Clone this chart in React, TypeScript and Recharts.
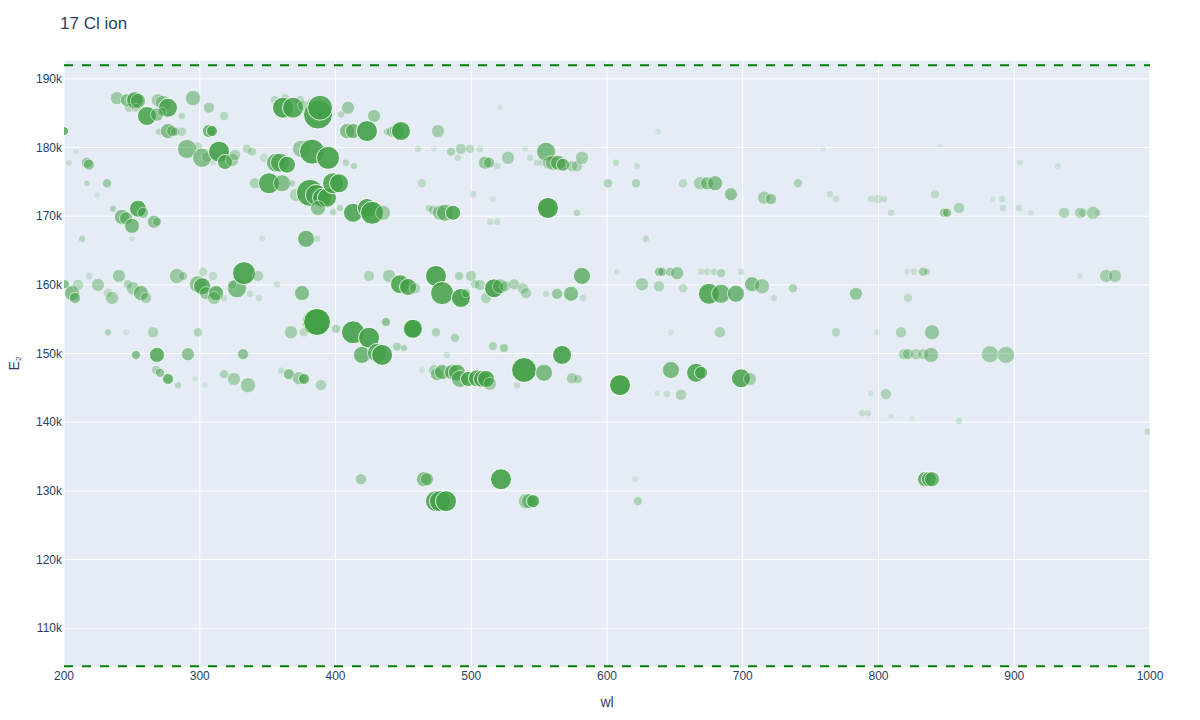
import React from "react";
import {
    ScatterChart,
    Scatter,
    XAxis,
    YAxis,
    CartesianGrid,
    ReferenceLine,
} from "recharts";

// [wl, E2, gf (log strength), conf]
type Transition = [number, number, number, number];

const title = "17 Cl ion";
const xTicks = [200, 300, 400, 500, 600, 700, 800, 900, 1000];
const yTicks = [110000, 120000, 130000, 140000, 150000, 160000, 170000, 180000, 190000];
const ionLimitHigh = 192000;
const ionLimitLow = 104450;

const levels187: Transition[] = [
    [239.0, 187200, 2, 0.45], [246.4, 186900, 2, 0.6], [252.3, 186900, 3, 0.85],
    [254.5, 186800, 2.5, 0.6], [269.2, 186900, 2, 0.4], [272.9, 186500, 2.5, 0.45],
    [276.6, 185800, 3.5, 0.85], [295.0, 187200, 2.5, 0.5], [247.9, 185800, 1, 0.3],
    [253.0, 185800, 1, 0.3], [261.1, 184600, 3.5, 0.85], [268.5, 184800, 2, 0.55],
    [272.2, 185200, 1, 0.35], [286.9, 184600, 0.5, 0.3], [306.8, 185800, 1.5, 0.4],
    [317.9, 184600, 1, 0.3], [355.4, 186900, 1, 0.3], [362.8, 187200, 1, 0.3],
    [373.8, 186900, 1, 0.3], [361.3, 185800, 4, 0.9], [368.7, 185800, 4, 0.85],
    [376.1, 186100, 1.5, 0.35], [382.0, 186500, 1, 0.3], [387.1, 184800, 6, 0.9],
    [388.6, 185800, 5, 0.85], [409.2, 185800, 2, 0.45], [404.1, 184800, 0.5, 0.3],
    [428.4, 184600, 2, 0.45], [521.2, 185800, 0.2, 0.15],
];

const levels182: Transition[] = [
    [200.0, 182400, 1, 0.75], [270.0, 182300, 0.5, 0.3], [276.6, 182400, 2.5, 0.6],
    [279.6, 182400, 1.5, 0.55], [281.8, 182300, 1, 0.4], [286.9, 182300, 1, 0.3],
    [306.8, 182400, 2, 0.7], [309.0, 182400, 1.5, 0.8], [408.5, 182400, 2.5, 0.6],
    [412.9, 182400, 2.5, 0.65], [423.2, 182400, 4, 0.9], [437.9, 182300, 0.5, 0.35],
    [441.6, 182300, 1.5, 0.5], [445.3, 182400, 2.5, 0.6], [448.2, 182400, 3.5, 0.9],
    [475.5, 182400, 2, 0.4], [637.6, 182300, 0.2, 0.15],
];

const levels179: Transition[] = [
    [290.6, 179800, 3.5, 0.6], [298.7, 180100, 1, 0.3], [301.7, 178500, 3.5, 0.6],
    [305.3, 178600, 1.5, 0.3], [314.2, 179400, 4, 0.9], [318.6, 177900, 2.5, 0.8],
    [323.8, 178200, 2, 0.4], [326.0, 178900, 1.5, 0.35], [334.8, 179800, 1, 0.3],
    [338.5, 179400, 1, 0.3], [347.3, 178500, 1, 0.2], [309.8, 177800, 0.2, 0.2],
    [356.2, 177800, 3.5, 0.7], [359.1, 177800, 3.5, 0.7], [364.3, 177500, 3, 0.85],
    [374.6, 179800, 3, 0.5], [382.7, 179400, 5, 0.9], [394.5, 178500, 4.5, 0.9],
    [407.7, 177800, 0.5, 0.3], [413.6, 177300, 0.5, 0.3], [203.7, 177800, 0.3, 0.2],
    [216.9, 177800, 1.5, 0.5], [218.4, 177500, 1.5, 0.5], [208.8, 179400, 0.3, 0.15],
    [460.8, 179800, 0.5, 0.2], [472.6, 179800, 0.3, 0.15], [485.1, 179400, 1, 0.35],
    [492.4, 179800, 1.5, 0.35], [499.1, 179800, 1, 0.3], [506.4, 179800, 0.5, 0.2],
    [490.2, 178500, 0.5, 0.2], [510.1, 177800, 2, 0.5], [513.1, 177800, 1.5, 0.5],
    [519.0, 177300, 0.5, 0.2], [527.1, 178500, 2, 0.4], [539.6, 179800, 0.3, 0.15],
    [543.3, 178500, 0.5, 0.2], [555.1, 179400, 3.5, 0.65], [548.4, 177800, 0.5, 0.2],
    [552.1, 177800, 0.5, 0.2], [557.3, 177800, 2, 0.4], [560.2, 177800, 2.5, 0.5],
    [563.9, 177800, 2.5, 0.65], [567.6, 177500, 2, 0.7], [574.2, 177300, 1.5, 0.35],
    [577.9, 177300, 1.5, 0.35], [581.6, 178500, 2, 0.4], [606.6, 177800, 0.5, 0.25],
    [622.1, 177300, 0.3, 0.2], [759.1, 179800, 0.2, 0.1], [845.3, 180200, 0.2, 0.1],
];

const levels175: Transition[] = [
    [216.9, 174800, 0.3, 0.3], [231.7, 174800, 1, 0.45], [224.3, 173100, 0.2, 0.15],
    [340.7, 174800, 1.5, 0.35], [351.0, 174800, 4, 0.85], [360.6, 174800, 3, 0.6],
    [368.0, 174800, 0.5, 0.3], [370.9, 173100, 2, 0.35], [381.2, 173400, 5.5, 0.9],
    [385.6, 173100, 4, 0.8], [390.1, 172700, 3.5, 0.8], [393.7, 172700, 3.5, 0.85],
    [398.2, 174800, 4, 0.85], [402.6, 174800, 3.5, 0.85], [387.1, 171200, 2.5, 0.55],
    [398.2, 170600, 0.5, 0.3], [403.3, 171200, 0.5, 0.3], [463.7, 174800, 1, 0.25],
    [600.7, 174800, 1, 0.35], [621.4, 174800, 1, 0.35], [656.0, 174800, 1, 0.25],
    [668.5, 174800, 2, 0.4], [673.7, 174800, 2, 0.55], [679.6, 174800, 2.5, 0.6],
    [691.3, 173200, 2, 0.55], [740.7, 174800, 1, 0.35], [715.7, 172700, 2, 0.4],
    [720.8, 172500, 1.5, 0.5], [764.3, 173200, 0.5, 0.2], [768.7, 172500, 0.5, 0.2],
    [794.5, 172500, 0.5, 0.2], [799.6, 172500, 1, 0.2], [804.1, 172500, 0.5, 0.2],
    [809.2, 170500, 0.5, 0.2], [501.3, 173200, 0.5, 0.2], [516.0, 172500, 0.3, 0.15],
    [513.8, 169200, 0.5, 0.2], [519.0, 169200, 0.5, 0.2],
];

const levels170: Transition[] = [
    [236.1, 171100, 0.5, 0.35], [242.7, 169900, 2.5, 0.6], [245.7, 169700, 2, 0.55],
    [254.5, 171100, 3, 0.85], [258.2, 170500, 1.5, 0.5], [250.1, 168600, 2.5, 0.65],
    [266.3, 169200, 2, 0.55], [268.5, 169200, 1, 0.4], [213.3, 166700, 0.5, 0.3],
    [250.1, 166700, 0.2, 0.15], [412.9, 170500, 3.5, 0.85], [423.2, 171200, 3.5, 0.9],
    [426.9, 170500, 4.5, 0.9], [435.0, 170500, 2.5, 0.45], [468.9, 171200, 0.5, 0.3],
    [471.8, 170900, 1, 0.35], [477.0, 170500, 2.5, 0.5], [480.7, 170500, 3, 0.6],
    [486.6, 170500, 2.5, 0.85], [556.5, 171200, 4, 0.95], [577.9, 170500, 0.5, 0.3],
    [378.3, 166700, 3, 0.7], [386.4, 166700, 0.5, 0.2], [345.9, 166700, 0.3, 0.15],
    [628.7, 166700, 0.5, 0.25], [841.6, 173200, 1, 0.25], [848.3, 170500, 1, 0.5],
    [850.5, 170500, 1, 0.5], [859.3, 171200, 1.5, 0.35], [884.3, 172500, 0.2, 0.15],
    [891.0, 172500, 0.5, 0.2], [891.7, 171200, 0.5, 0.2], [903.5, 171200, 0.5, 0.2],
    [912.3, 170500, 0.3, 0.15], [904.2, 177800, 0.3, 0.15], [932.2, 177300, 0.3, 0.15],
    [936.7, 170500, 1.5, 0.35], [948.4, 170500, 1.5, 0.35], [950.6, 170500, 1, 0.3],
    [958.0, 170500, 2, 0.4], [961.7, 170500, 0.5, 0.2],
];

const levels160: Transition[] = [
    [200.7, 160100, 1, 0.6], [205.9, 158800, 2.5, 0.6], [208.1, 158100, 1.5, 0.6],
    [210.3, 160000, 1.5, 0.3], [218.4, 161300, 0.5, 0.2], [225.0, 160000, 2, 0.4],
    [232.4, 158800, 1, 0.25], [235.4, 158100, 2, 0.4], [240.5, 161300, 2, 0.45],
    [247.1, 160100, 1, 0.35], [250.8, 159500, 2, 0.4], [256.7, 158800, 2.5, 0.6],
    [260.4, 158100, 1.5, 0.4], [283.2, 161300, 2.5, 0.45], [287.7, 161300, 1, 0.35],
    [302.4, 161900, 1, 0.25], [309.8, 161300, 1, 0.25], [298.7, 160100, 3, 0.55],
    [301.7, 159800, 3, 0.8], [304.6, 158800, 2, 0.5], [312.0, 158800, 2.5, 0.75],
    [310.5, 158100, 2, 0.4], [317.9, 158100, 0.5, 0.2], [327.4, 159500, 3.5, 0.65],
    [323.8, 160000, 1, 0.25], [332.6, 161700, 4.5, 0.9], [342.9, 161300, 1.5, 0.35],
    [337.0, 158700, 0.5, 0.2], [343.6, 158100, 0.5, 0.2], [356.9, 160100, 0.5, 0.2],
    [375.3, 158800, 2.5, 0.6], [424.7, 161300, 1.5, 0.35], [439.4, 161300, 2, 0.4],
    [447.5, 160100, 3.5, 0.85], [453.4, 159700, 3, 0.85], [458.6, 159500, 1.5, 0.35],
    [474.0, 161300, 4, 0.9], [478.5, 158800, 4.5, 0.85], [492.4, 158100, 3.5, 0.9],
    [496.1, 158800, 1, 0.35], [491.0, 161300, 1, 0.35], [499.8, 161300, 1.5, 0.35],
    [502.8, 160100, 1, 0.3], [506.4, 160000, 1.5, 0.35], [510.9, 158100, 1.5, 0.35],
    [516.8, 159500, 3.5, 0.9], [521.2, 159800, 2.5, 0.45], [524.9, 159800, 1.5, 0.35],
    [531.5, 160100, 1.5, 0.35], [538.1, 159500, 1.5, 0.35], [540.3, 158800, 1.5, 0.35],
    [555.1, 158700, 0.5, 0.2], [563.2, 158700, 1.5, 0.5], [573.5, 158700, 2.5, 0.6],
    [582.3, 158100, 0.5, 0.2], [581.6, 161300, 3, 0.7], [607.4, 161900, 0.3, 0.15],
    [625.8, 160100, 2, 0.4], [638.3, 161900, 1, 0.55], [640.5, 161900, 1, 0.5],
    [646.4, 161900, 1, 0.4], [651.6, 161700, 2, 0.5], [638.3, 159800, 1.5, 0.35],
    [656.0, 159500, 1, 0.25], [669.2, 161900, 0.5, 0.2], [673.7, 161900, 0.5, 0.2],
    [678.8, 161900, 0.5, 0.25], [684.0, 161700, 1, 0.35], [698.7, 161900, 0.5, 0.2],
    [675.1, 158700, 4, 0.85], [684.0, 158700, 3.5, 0.7], [695.0, 158700, 3, 0.7],
    [706.8, 160100, 2.5, 0.6], [714.2, 159800, 2.5, 0.45], [723.0, 158100, 0.5, 0.2],
    [737.0, 159500, 1, 0.35], [783.4, 158700, 2, 0.5], [821.7, 158100, 1, 0.25],
    [821.0, 161900, 0.3, 0.15], [826.2, 161900, 0.5, 0.2], [832.8, 161900, 1, 0.4],
    [835.7, 161900, 0.5, 0.3], [948.4, 161300, 0.3, 0.15], [967.6, 161300, 2, 0.4],
    [974.2, 161300, 2, 0.4],
];

const levels152: Transition[] = [
    [384.9, 154600, 5.5, 0.9], [385.6, 154600, 5.5, 0.9], [386.4, 154600, 5.5, 0.9],
    [367.2, 153100, 2, 0.4], [376.8, 153100, 1, 0.25], [400.4, 153600, 1, 0.35],
    [412.9, 153100, 4.5, 0.9], [424.7, 152300, 4, 0.9], [437.2, 154600, 1, 0.55],
    [456.4, 153600, 3.5, 0.85], [457.1, 153600, 3.5, 0.85], [474.0, 153100, 1, 0.35],
    [488.0, 152300, 1, 0.35], [232.4, 153100, 0.5, 0.35], [245.7, 153100, 0.3, 0.15],
    [265.6, 153100, 1.5, 0.35], [298.7, 153100, 1, 0.35], [647.1, 153100, 0.3, 0.15],
    [683.2, 153100, 1.5, 0.35], [768.7, 153100, 1, 0.3], [798.9, 153100, 0.3, 0.15],
    [816.6, 153100, 1.5, 0.35], [839.4, 153100, 2.5, 0.5], [253.0, 149800, 1, 0.6],
    [268.5, 149800, 2.5, 0.8], [291.3, 149900, 2, 0.55], [331.9, 149900, 1.5, 0.55],
    [419.5, 149800, 3, 0.7], [430.6, 150100, 3.5, 0.8], [434.3, 149800, 4, 0.9],
    [445.3, 151000, 1, 0.35], [450.5, 150800, 0.5, 0.35], [482.1, 149800, 0.5, 0.2],
    [516.0, 151100, 1, 0.35], [524.1, 150800, 1, 0.4], [566.9, 149800, 3.5, 0.9],
    [818.8, 149900, 1.5, 0.35], [821.7, 149900, 1.5, 0.45], [827.6, 149900, 1.5, 0.35],
    [832.8, 149900, 1.5, 0.35], [838.7, 149800, 2.5, 0.5], [882.1, 149900, 3, 0.45],
    [893.9, 149800, 3, 0.45],
];

const levels146: Transition[] = [
    [267.8, 147600, 1, 0.35], [270.7, 147200, 1, 0.55], [276.6, 146300, 1.5, 0.75],
    [284.0, 145400, 0.5, 0.3], [296.5, 146300, 0.2, 0.15], [303.9, 145400, 0.2, 0.15],
    [317.9, 147000, 1, 0.35], [325.2, 146300, 2, 0.4], [335.5, 145400, 2.5, 0.45],
    [359.9, 147500, 0.5, 0.2], [365.7, 147000, 1.5, 0.55], [373.1, 146400, 2, 0.45],
    [376.8, 146300, 1.5, 0.75], [389.3, 145400, 1.5, 0.35], [463.7, 147600, 0.3, 0.15],
    [472.6, 147600, 1.5, 0.35], [474.8, 147000, 2, 0.55], [478.5, 147300, 2.5, 0.65],
    [485.8, 147300, 2.5, 0.7], [489.5, 147200, 3, 0.75], [491.7, 146300, 3, 0.6],
    [497.6, 146300, 2.5, 0.85], [504.2, 146400, 3, 0.8], [507.9, 146300, 3, 0.85],
    [510.9, 146300, 3, 0.85], [513.8, 145600, 2, 0.4], [533.7, 145400, 0.5, 0.2],
    [538.9, 147600, 5, 0.95], [553.6, 147200, 3, 0.65], [574.2, 146400, 1.5, 0.4],
    [578.6, 146300, 1, 0.35], [609.6, 145400, 4, 0.95], [647.1, 147600, 3, 0.65],
    [665.6, 147200, 3.5, 0.85], [669.3, 147200, 2, 0.7], [698.7, 146400, 3.5, 0.85],
    [705.3, 146300, 2, 0.4], [636.8, 144200, 0.2, 0.15], [644.2, 144100, 0.5, 0.2],
    [654.5, 144000, 1.5, 0.35], [794.5, 144200, 0.2, 0.15], [805.5, 144100, 1.5, 0.35],
    [787.9, 141300, 0.5, 0.2], [792.3, 141300, 0.5, 0.2], [809.2, 140900, 0.2, 0.15],
    [824.7, 140600, 0.2, 0.12], [859.3, 140200, 0.5, 0.2], [998.5, 138600, 0.5, 0.25],
];

const levels130: Transition[] = [
    [418.8, 131700, 1.5, 0.4], [465.2, 131700, 2.5, 0.6], [467.4, 131700, 2, 0.55],
    [474.0, 128500, 4, 0.85], [477.0, 128500, 4, 0.85], [481.4, 128500, 4, 0.9],
    [521.9, 131700, 4, 0.9], [540.3, 128500, 2.5, 0.45], [542.5, 128500, 2.5, 0.55],
    [545.5, 128500, 2, 0.85], [620.6, 131700, 0.3, 0.15], [622.8, 128500, 1, 0.35],
    [834.3, 131700, 2.5, 0.8], [837.2, 131700, 2.5, 0.8], [839.4, 131700, 2.5, 0.7],
];

const data = [
    ...levels187,
    ...levels182,
    ...levels179,
    ...levels175,
    ...levels170,
    ...levels160,
    ...levels152,
    ...levels146,
    ...levels130,
].map(([wl, E2, gf, conf]) => ({ wl, E2, gf, conf }));

const FONT = '"Liberation Sans", Arial, sans-serif';
const INK = "#2a3f5f";
const MARKER = "#43a047";

function Bubble(props: any) {
    const { cx, cy, payload } = props;
    if (cx == null || cy == null) return null;
    const r = (5 + 4 * payload.gf) / 2;
    return (
        <circle
            cx={cx}
            cy={cy}
            r={r}
            fill={MARKER}
            fillOpacity={payload.conf}
            stroke="#ffffff"
            strokeOpacity={payload.conf}
            strokeWidth={1}
        />
    );
}

export default function App() {
    return (
        <div
            style={{
                position: "absolute",
                left: 0,
                top: 0,
                width: 1200,
                height: 720,
                background: "#fff",
                fontFamily: FONT,
            }}
        >
            <div
                style={{
                    position: "absolute",
                    left: 60,
                    top: 13,
                    fontSize: 17,
                    lineHeight: "22px",
                    color: INK,
                }}
            >
                {title}
            </div>
            <ScatterChart
                width={1200}
                height={720}
                margin={{ top: 60, right: 50, bottom: 23, left: 4 }}
            >
                <CartesianGrid stroke="#ffffff" strokeWidth={1} fill="#E5ECF6" fillOpacity={1} />
                <XAxis
                    type="number"
                    dataKey="wl"
                    domain={[200, 1000]}
                    ticks={xTicks}
                    allowDataOverflow
                    height={30}
                    tickSize={0}
                    tickMargin={4}
                    axisLine={false}
                    tick={{ fill: INK, fontSize: 12, fontFamily: FONT }}
                    label={{
                        content: (p: any) => {
                            const vb = p.viewBox;
                            return (
                                <text
                                    x={vb.x + vb.width / 2}
                                    y={vb.y + vb.height + 5}
                                    textAnchor="middle"
                                    dominantBaseline="central"
                                    fill={INK}
                                    fontSize={14}
                                    fontFamily={FONT}
                                >
                                    wl
                                </text>
                            );
                        },
                    }}
                />
                <YAxis
                    type="number"
                    dataKey="E2"
                    domain={[104350, 192750]}
                    ticks={yTicks}
                    allowDataOverflow
                    width={60}
                    tickSize={0}
                    tickMargin={2}
                    axisLine={false}
                    tickFormatter={(v: number) => `${v / 1000}k`}
                    tick={{ fill: INK, fontSize: 12, fontFamily: FONT }}
                    label={{
                        content: (p: any) => {
                            const vb = p.viewBox;
                            const cx = 14;
                            const cy = vb.y + vb.height / 2;
                            return (
                                <text
                                    x={cx}
                                    y={cy}
                                    transform={`rotate(-90, ${cx}, ${cy})`}
                                    textAnchor="middle"
                                    dominantBaseline="central"
                                    fill={INK}
                                    fontSize={14}
                                    fontFamily={FONT}
                                >
                                    E
                                    <tspan baselineShift="sub" fontSize={8}>
                                        2
                                    </tspan>
                                </text>
                            );
                        },
                    }}
                />
                <ReferenceLine
                    y={ionLimitHigh}
                    stroke="green"
                    strokeWidth={2}
                    strokeDasharray="9 9"
                />
                <ReferenceLine
                    y={ionLimitLow}
                    stroke="green"
                    strokeWidth={2}
                    strokeDasharray="9 9"
                />
                <Scatter data={data} shape={Bubble} isAnimationActive={false} />
            </ScatterChart>
        </div>
    );
}
